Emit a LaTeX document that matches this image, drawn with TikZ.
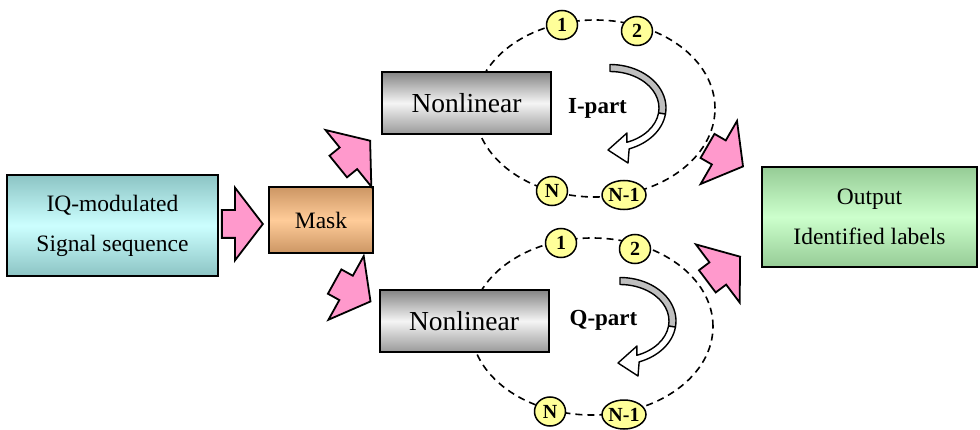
\documentclass[tikz,border=0pt]{standalone}
\usepackage{fontspec}
\setmainfont{Liberation Serif}
\usepackage{tikz}
\usetikzlibrary{shapes.geometric,shapes.arrows}
\definecolor{pinkarrow}{RGB}{255,153,204}
\definecolor{iqlight}{RGB}{204,255,255}
\definecolor{iqdark}{RGB}{140,196,196}
\definecolor{masklight}{RGB}{255,204,153}
\definecolor{maskdark}{RGB}{204,150,100}
\definecolor{outlight}{RGB}{204,255,204}
\definecolor{outdark}{RGB}{150,204,150}
\definecolor{cellfill}{RGB}{255,255,153}

\begin{document}
\begin{tikzpicture}[x=1pt,y=1pt,
      box/.style={draw,line width=2pt,inner sep=0pt,align=center,font=\fontsize{23.5}{40}\selectfont},
      metal/.style={box,top color=black!48,bottom color=black!40,middle color=black!4,
         minimum width=169pt,minimum height=62pt,font=\fontsize{27.5}{30}\selectfont},
      blockarrow/.style={single arrow,draw,line width=1.8pt,fill=pinkarrow,inner xsep=0pt,inner ysep=13pt,
         single arrow head extend=22.5pt,single arrow tip angle=105,minimum height=41pt,anchor=tip},
      cell/.style={ellipse,draw,line width=1.5pt,fill=cellfill,inner sep=0pt,
         minimum width=31pt,minimum height=29pt,font=\fontsize{20}{20}\selectfont\bfseries},
      ring/.style={line width=1.6pt,dash pattern=on 7pt off 5pt},
      ribbon/.style={draw,line width=1.4pt,line join=round},
      part/.style={font=\fontsize{23}{23}\selectfont\bfseries}]
    \useasboundingbox (0,0) rectangle (980,429);
    % LOOPS: dashed rings behind the boxes
    \coordinate (Ic) at (595,320.5);
    \coordinate (Qc) at (592,102.5);
    \draw[ring] (Ic) ellipse [x radius=120,y radius=88.5];
    \draw[ring] (Qc) ellipse [x radius=121,y radius=88.5];
    % BOXES
    \node[box,minimum width=211pt,minimum height=101pt,top color=iqdark,bottom color=iqdark,middle color=iqlight]
       (iq) at (112.5,203.5) {IQ-modulated\\Signal sequence};
    \node[box,minimum width=104pt,minimum height=66pt,top color=maskdark,bottom color=maskdark,middle color=masklight]
       (mask) at (321,209) {Mask};
    \node[metal] (nlI) at (466.5,326) {Nonlinear};
    \node[metal] (nlQ) at (464,108) {Nonlinear};
    \node[box,minimum width=215pt,minimum height=100pt,top color=outdark,bottom color=outdark,middle color=outlight]
       (out) at (869.5,212) {Output\\Identified labels};
    % I-part
    \node[cell] (I1) at (562,404) {1};
    \node[cell] (I2) at (637,398) {2};
    \node[cell] (IN) at (552,238) {N};
    \node[cell] (IM) at (624,234) {N-1};
    \node[part] (Ilab) at (597.5,321) {I-part};
    % Q-part
    \node[cell] (Q1) at (561,186) {1};
    \node[cell] (Q2) at (635,180) {2};
    \node[cell] (QN) at (550,17.5) {N};
    \node[cell] (QM) at (624,14.5) {N-1};
    \node[part] (Qlab) at (603.5,109) {Q-part};
    % turning arrows inside the rings
    \foreach \cx/\cy in {610/321,620/108} {
      \begin{scope}[shift={(\cx,\cy)}]
        \draw[ribbon,fill=black!25] (90:56 and 43.5) arc[start angle=90,end angle=-8,x radius=56,y radius=43.5]
           -- (-8:49 and 36.5) arc[start angle=-8,end angle=90,x radius=49,y radius=36.5] -- cycle;
        \draw[ribbon,fill=white] (-8:56 and 43.5) arc[start angle=-8,end angle=-70,x radius=56,y radius=43.5]
           -- (18,-55) -- (-2,-42) -- (17,-25) -- (-70:49 and 36.5)
           arc[start angle=-70,end angle=-8,x radius=49,y radius=36.5] -- cycle;
      \end{scope}
    }
    % BLOCK ARROWS between the boxes
    \node[blockarrow] (aMask) at ([shift={(-4,-4)}]mask.west) {};
    \node[blockarrow,rotate=39] (aI) at ([shift={(-10,-5)}]nlI.south west) {};
    \node[blockarrow,rotate=-29] (aQ) at ([shift={(-7,-13)}]nlQ.north west) {};
    \node[blockarrow,rotate=-30] (aIo) at ([shift={(-17,-1)}]out.north west) {};
    \node[blockarrow,rotate=37] (aQo) at ([shift={(-20,12)}]out.south west) {};
  \end{tikzpicture}
\end{document}
